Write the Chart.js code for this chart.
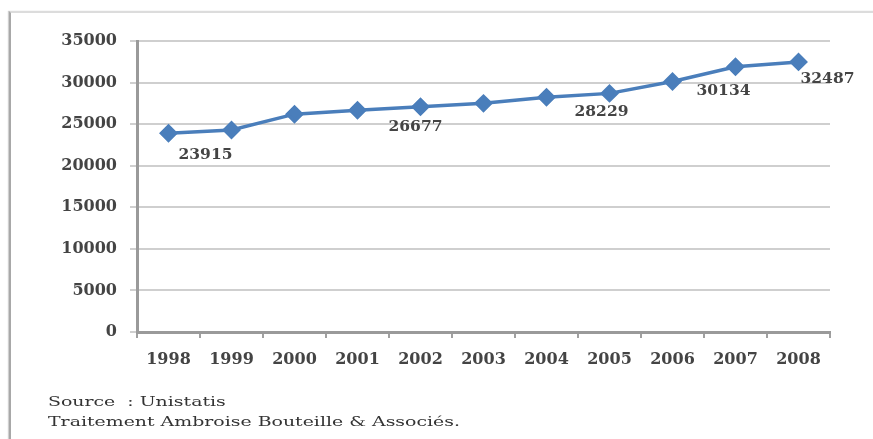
<!DOCTYPE html>
<html>
<head>
<meta charset="utf-8">
<script src="https://cdn.jsdelivr.net/npm/chart.js@4/dist/chart.umd.min.js"></script>
<style>
html,body{margin:0;padding:0;background:#fff;}
#wrap{position:relative;width:873px;height:439px;overflow:hidden;}
#frame{position:absolute;left:9px;top:11px;width:880px;height:440px;border-left:2px solid #a8a8a8;border-top:2px solid #dcdcdc;box-shadow:-1px 0 1px #d0d0d0;}
canvas{position:absolute;left:0;top:0;}
.note{position:absolute;left:48px;font-family:"DejaVu Serif","Liberation Serif",serif;color:#333;font-size:13.5px;white-space:nowrap;transform:scaleX(1.4);transform-origin:0 0;}
</style>
</head>
<body>
<div id="wrap">
<div id="frame"></div>
<canvas id="c" width="873" height="439"></canvas>
<div class="note" style="top:393px;">Source&nbsp; : Unistatis</div>
<div class="note" style="top:413px;">Traitement Ambroise Bouteille &amp; Associés.</div>
</div>
<script>
const years = ['1998','1999','2000','2001','2002','2003','2004','2005','2006','2007','2008'];
const students = [23915, 24300, 26200, 26677, 27100, 27500, 28229, 28700, 30134, 31900, 32487];
const labeledYears = ['1998','2001','2004','2006','2008'];
const yTicks = [0, 5000, 10000, 15000, 20000, 25000, 30000, 35000];

const labelOffsets = {'1998':[37,22],'2001':[58,17],'2004':[55,15],'2006':[51,10],'2008':[29,17]};
const FONT = '"DejaVu Serif", "Liberation Serif", serif';

const valueLabels = {
  id: 'valueLabels',
  afterDatasetsDraw(chart) {
    const meta = chart.getDatasetMeta(0);
    const ctx = chart.ctx;
    ctx.save();
    ctx.font = 'bold 15.5px ' + FONT;
    ctx.fillStyle = '#444';
    ctx.textAlign = 'center';
    ctx.textBaseline = 'middle';
    labeledYears.forEach(y => {
      const i = years.indexOf(y);
      const p = meta.data[i];
      const off = labelOffsets[y];
      ctx.fillText(String(students[i]), p.x + off[0], p.y + off[1]);
    });
    ctx.restore();
  }
};

new Chart(document.getElementById('c'), {
  type: 'line',
  data: {
    labels: years,
    datasets: [{
      data: students,
      borderColor: '#4a7ebb',
      backgroundColor: '#4a7ebb',
      borderWidth: 3.5,
      pointStyle: 'rectRot',
      pointRadius: 7,
      pointHoverRadius: 7,
      pointBackgroundColor: '#4a7ebb',
      pointBorderColor: '#4a7ebb',
      tension: 0
    }]
  },
  options: {
    responsive: false,
    animation: false,
    events: [],
    layout: { padding: { left: 0, top: 41, right: 43, bottom: 0 } },
    plugins: { legend: { display: false }, tooltip: { enabled: false } },
    scales: {
      x: {
        type: 'category',
        offset: true,
        grid: { offset: true, drawOnChartArea: false, drawTicks: true, tickLength: 6, color: '#a0a0a0', lineWidth: 2 },
        border: { display: true, color: '#9a9a9a', width: 3 },
        ticks: { color: '#444', font: { family: FONT, size: 16, weight: 'bold' }, padding: 12, maxRotation: 0, autoSkip: false },
        afterFit(scale) { scale.height = 107; }
      },
      y: {
        min: 0, max: 35000,
        afterBuildTicks(scale) { scale.ticks = yTicks.map(v => ({ value: v })); },
        grid: { color: '#cfcfcf', lineWidth: 2, tickLength: 7, drawTicks: true },
        border: { display: true, color: '#9a9a9a', width: 3 },
        ticks: { color: '#444', font: { family: FONT, size: 16, weight: 'bold' }, padding: 13, callback: v => String(v) },
        afterFit(scale) { scale.width = 137; }
      }
    }
  },
  plugins: [valueLabels]
});
</script>
</body>
</html>
